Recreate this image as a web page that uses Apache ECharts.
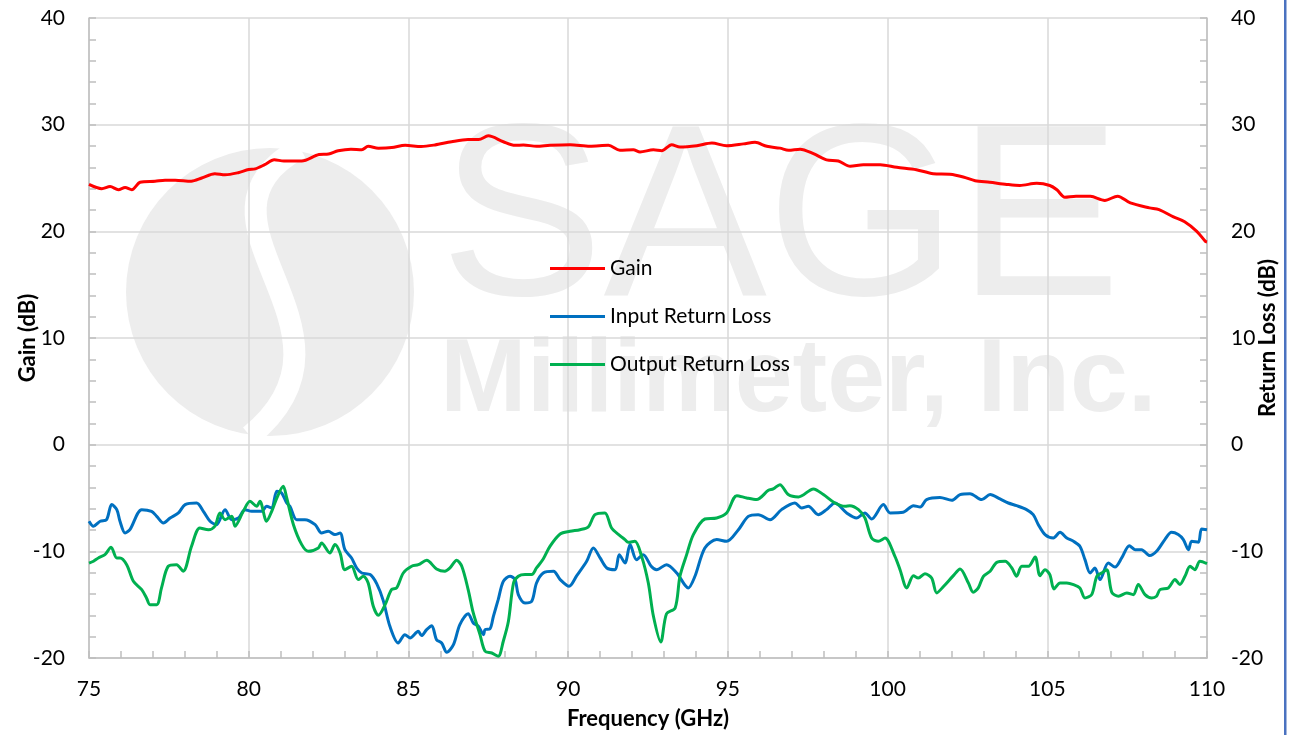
<!DOCTYPE html>
<html><head><meta charset="utf-8">
<script src="https://cdn.jsdelivr.net/npm/echarts@6/dist/echarts.min.js"></script>
<style>html,body{margin:0;padding:0;background:#fff}#c{width:1289px;height:735px}</style>
</head><body><div id="c"></div>
<script>
const xTicks = [75, 80, 85, 90, 95, 100, 105, 110];
const yTicks = [-20, -10, 0, 10, 20, 30, 40];
const seriesNames = ['Gain', 'Input Return Loss', 'Output Return Loss'];

const gainF = [75.0,75.4,75.66,75.92,76.13,76.34,76.6,77.07,77.38,77.7,78.2,78.53,78.94,79.26,79.67,80.0,80.2,80.5,80.8,81.1,81.66,82.2,82.5,82.8,83.2,83.54,83.74,84.06,84.48,84.9,85.4,85.83,86.35,86.87,87.2,87.5,87.97,88.34,88.6,89.01,89.43,90.06,90.68,91.26,91.62,92.04,92.25,92.67,92.93,93.24,93.5,94.03,94.5,94.96,95.49,95.85,96.22,96.63,96.9,97.26,97.68,98.09,98.46,98.83,99.24,99.77,100.29,100.9,101.43,101.95,102.37,102.74,103.2,103.73,104.14,104.67,105.08,105.3,105.55,105.9,106.35,106.8,107.2,107.6,108.2,108.5,108.95,109.3,109.68,109.95,110.0];
const gainV = [24.4,24.0,24.2,23.9,24.1,23.9,24.6,24.7,24.8,24.8,24.7,25.0,25.4,25.3,25.5,25.8,25.85,26.25,26.7,26.6,26.6,27.2,27.25,27.55,27.7,27.65,27.97,27.8,27.85,28.06,27.95,28.1,28.4,28.6,28.6,28.95,28.4,28.06,28.1,27.97,28.06,28.12,27.97,28.06,27.6,27.65,27.44,27.65,27.56,28.12,27.9,28.03,28.28,28.03,28.2,28.34,27.97,27.8,27.6,27.7,27.28,26.7,26.6,26.1,26.25,26.25,26.0,25.78,25.4,25.35,25.1,24.75,24.6,24.4,24.3,24.5,24.3,23.9,23.2,23.3,23.28,22.9,23.3,22.66,22.2,22.03,21.35,20.9,20.0,19.06,19.0];

const irlF = [75.0,75.14,75.35,75.55,75.71,75.87,75.97,76.13,76.28,76.65,76.96,77.12,77.33,77.54,77.8,78.01,78.37,78.58,78.79,78.99,79.26,79.47,79.68,79.88,80.09,80.41,80.56,80.72,80.88,81.03,81.19,81.29,81.5,81.76,82.08,82.28,82.49,82.7,82.86,83.01,83.22,83.38,83.54,83.8,84.01,84.21,84.42,84.68,84.89,85.05,85.31,85.41,85.57,85.73,85.88,86.04,86.2,86.41,86.61,86.87,87.03,87.19,87.35,87.4,87.55,87.66,87.81,87.97,88.18,88.34,88.44,88.65,88.86,89.01,89.22,89.54,89.75,90.03,90.27,90.58,90.79,91.0,91.21,91.47,91.6,91.78,91.94,92.14,92.35,92.6,92.77,93.08,93.4,93.76,93.97,94.28,94.65,94.96,95.33,95.64,95.95,96.32,96.68,97.1,97.31,97.52,97.83,98.09,98.35,98.72,99.03,99.29,99.5,99.87,100.08,100.49,100.81,101.02,101.22,101.64,102.01,102.27,102.58,102.95,103.21,103.52,103.78,104.04,104.35,104.56,104.72,104.93,105.19,105.4,105.61,105.82,106.02,106.18,106.34,106.49,106.65,106.91,107.12,107.33,107.57,107.75,107.95,108.21,108.42,108.68,108.89,109.1,109.26,109.42,109.52,109.73,109.83,110.0];
const irlV = [-7.18,-7.65,-7.18,-7.03,-5.62,-6.09,-7.18,-8.28,-7.97,-6.09,-6.25,-6.72,-7.34,-6.87,-6.4,-5.62,-5.47,-6.25,-7.18,-7.5,-6.09,-7.03,-6.87,-6.09,-6.25,-6.25,-5.78,-5.93,-4.37,-4.53,-5.47,-5.78,-7.03,-7.03,-7.5,-8.28,-8.12,-8.43,-8.28,-9.84,-10.62,-11.56,-12.03,-12.18,-13.05,-14.6,-17.03,-18.59,-17.81,-18.12,-17.5,-17.9,-17.34,-16.97,-18.28,-18.59,-19.46,-18.75,-16.87,-15.84,-16.72,-17.03,-17.81,-17.34,-17.28,-16.09,-14.53,-12.81,-12.34,-12.65,-14.06,-14.84,-14.68,-12.97,-12.03,-11.87,-12.65,-13.28,-12.28,-10.93,-9.68,-10.62,-11.56,-11.72,-10.31,-11.09,-9.37,-10.78,-10.31,-11.4,-11.72,-11.25,-12.03,-13.43,-12.34,-9.68,-8.9,-9.06,-7.97,-6.72,-6.56,-7.03,-6.09,-5.47,-5.93,-5.78,-6.56,-6.09,-5.47,-6.4,-6.87,-6.4,-6.97,-5.62,-6.4,-6.34,-5.72,-5.84,-5.15,-4.95,-5.22,-4.68,-4.59,-5.15,-4.68,-5.09,-5.47,-5.72,-6.09,-6.56,-7.5,-8.43,-8.75,-8.22,-8.75,-9.06,-9.53,-10.78,-12.03,-11.56,-12.65,-11.09,-11.47,-10.62,-9.47,-9.84,-9.84,-10.4,-10.0,-8.9,-8.22,-8.43,-8.9,-9.84,-9.06,-9.15,-7.9,-7.97];

const orlF = [75.0,75.14,75.29,75.5,75.69,75.87,75.97,76.18,76.39,76.65,76.8,76.91,77.12,77.27,77.48,77.74,77.95,78.21,78.47,78.74,78.94,79.1,79.26,79.47,79.57,79.83,80.04,80.25,80.35,80.56,80.72,80.88,81.08,81.19,81.4,81.66,81.87,82.18,82.28,82.54,82.7,82.86,83.01,83.22,83.43,83.59,83.74,83.9,84.06,84.27,84.47,84.63,84.84,85.1,85.31,85.57,85.88,86.14,86.3,86.51,86.67,86.87,87.03,87.24,87.4,87.61,87.81,87.97,88.13,88.29,88.44,88.65,88.86,89.01,89.22,89.43,89.75,90.06,90.37,90.63,90.84,91.15,91.36,91.62,91.78,91.88,92.09,92.3,92.51,92.67,92.9,93.08,93.35,93.5,93.71,93.92,94.28,94.65,94.96,95.28,95.59,95.9,96.27,96.42,96.63,96.89,97.21,97.68,97.99,98.35,98.67,98.82,99.09,99.29,99.5,99.71,99.92,100.23,100.39,100.6,100.81,100.96,101.17,101.38,101.54,101.75,102.06,102.27,102.53,102.68,102.84,103.0,103.21,103.42,103.68,103.89,104.04,104.2,104.41,104.62,104.77,104.93,105.08,105.21,105.4,105.61,105.82,106.02,106.18,106.39,106.55,106.7,106.86,107.02,107.23,107.49,107.69,107.85,108.06,108.27,108.42,108.53,108.79,109.0,109.15,109.31,109.47,109.62,109.78,110.0];
const orlV = [-11.1,-10.93,-10.62,-10.31,-9.62,-10.62,-10.62,-11.25,-12.81,-13.59,-14.37,-15.0,-15.0,-13.43,-11.4,-11.25,-11.87,-9.53,-7.81,-7.97,-7.65,-6.4,-7.03,-6.72,-7.65,-6.25,-5.31,-5.78,-5.31,-7.18,-6.25,-5.0,-3.9,-5.0,-7.5,-9.37,-10.0,-9.68,-9.22,-10.15,-9.37,-10.15,-11.72,-11.4,-12.65,-12.34,-12.97,-15.15,-16.0,-15.0,-13.59,-13.43,-12.03,-11.4,-11.25,-10.84,-11.65,-11.87,-11.56,-10.84,-11.4,-13.59,-15.78,-17.81,-19.37,-19.53,-19.84,-18.43,-16.56,-12.97,-12.34,-12.18,-12.18,-11.56,-10.72,-9.53,-8.37,-8.12,-7.97,-7.72,-6.56,-6.4,-7.81,-8.53,-8.9,-9.15,-9.06,-10.47,-12.97,-16.09,-18.5,-15.85,-15.31,-12.34,-10.31,-8.43,-6.97,-6.87,-6.4,-4.78,-5.0,-5.15,-4.28,-4.15,-3.75,-4.68,-4.9,-4.15,-4.68,-5.47,-5.78,-5.72,-6.09,-6.87,-8.75,-9.06,-8.75,-10.47,-11.72,-13.43,-12.28,-12.5,-12.1,-12.5,-13.9,-13.3,-12.28,-11.65,-12.97,-13.84,-13.43,-12.34,-11.87,-11.03,-10.93,-11.56,-12.34,-11.4,-11.4,-10.53,-12.28,-11.72,-12.18,-13.53,-12.97,-12.97,-13.12,-13.43,-14.37,-14.06,-12.34,-12.03,-11.72,-13.84,-14.21,-13.9,-14.06,-13.12,-14.06,-14.37,-14.21,-13.59,-13.43,-12.65,-13.12,-12.34,-11.4,-11.72,-10.93,-11.15];

const zip = (f, v) => f.map((x, i) => [x, v[i]]);
const FONT = 'Lato, "Liberation Sans", sans-serif';
const axisGrey = '#bfbfbf';
const gridGrey = '#d9d9d9';
const labelStyle = { color: '#000', fontSize: 21, fontFamily: FONT };
const nameStyle = { color: '#000', fontSize: 22, fontWeight: 'bold', fontFamily: FONT };
const wm = '#ededed';

function yAxis(pos, name, showSplit) {
  return {
    type: 'value', position: pos, min: yTicks[0], max: yTicks[yTicks.length - 1], interval: 10,
    name: name, nameLocation: 'middle', nameGap: 50, nameMoveOverlap: false, nameTextStyle: nameStyle,
    axisLine: { show: true, onZero: false, lineStyle: { color: axisGrey, width: 1.5 } },
    axisTick: { show: true, inside: true, length: 7, lineStyle: { color: axisGrey, width: 1.5 } },
    minorTick: { show: true, splitNumber: 5, length: 7, lineStyle: { color: axisGrey, width: 1.5 } },
    axisLabel: Object.assign({ margin: 24 }, labelStyle),
    splitLine: { show: showSplit, lineStyle: { color: gridGrey, width: 1.5 } }
  };
}

const chart = echarts.init(document.getElementById('c'));
chart.setOption({
  animation: false,
  backgroundColor: '#fff',
  grid: { left: 89, right: 82, top: 18, bottom: 77, containLabel: false, outerBoundsMode: 'none' },
  graphic: [
    { type: 'circle', z: -10, shape: { cx: 270, cy: 292, r: 144 }, style: { fill: wm } },
    { type: 'bezierCurve', z: -9, shape: { x1: 300, y1: 148, cpx1: 170, cpy1: 220, cpx2: 380, cpy2: 330, x2: 250, y2: 436 }, style: { stroke: '#fff', lineWidth: 22, fill: null } },
    { type: 'text', z: -10, left: 440, top: 105, style: { text: 'SAGE', fontSize: 245, fontFamily: '"Liberation Sans", sans-serif', fill: wm } },
    { type: 'text', z: -10, left: 440, top: 330, style: { text: 'Millimeter, Inc.', fontSize: 104, fontWeight: 'bold', fontFamily: '"Liberation Sans", sans-serif', fill: wm } },
    { type: 'rect', z: 10, shape: { x: 1284, y: 0, width: 2.5, height: 735 }, style: { fill: '#4a72c0' } }
  ],
  legend: {
    orient: 'vertical', left: 545, top: 253, itemWidth: 55, itemHeight: 3, itemGap: 27, icon: 'rect',
    textStyle: { color: '#000', fontSize: 21, fontFamily: FONT },
    data: seriesNames
  },
  xAxis: {
    type: 'value', min: xTicks[0], max: xTicks[xTicks.length - 1], interval: 5,
    name: 'Frequency (GHz)', nameLocation: 'middle', nameGap: 50, nameMoveOverlap: false, nameTextStyle: nameStyle,
    axisLine: { show: true, onZero: false, lineStyle: { color: axisGrey, width: 1.5 } },
    axisTick: { show: true, inside: true, length: 7, lineStyle: { color: axisGrey, width: 1.5 } },
    minorTick: { show: true, splitNumber: 5, length: 7, lineStyle: { color: axisGrey, width: 1.5 } },
    axisLabel: Object.assign({ margin: 21 }, labelStyle),
    splitLine: { show: true, lineStyle: { color: gridGrey, width: 1.5 } }
  },
  yAxis: [yAxis('left', 'Gain (dB)', true), yAxis('right', 'Return Loss (dB)', false)],
  series: [
    { name: seriesNames[0], type: 'line', yAxisIndex: 0, data: zip(gainF, gainV), showSymbol: false, smooth: 0.3, lineStyle: { color: '#ff0000', width: 3 }, itemStyle: { color: '#ff0000' } },
    { name: seriesNames[1], type: 'line', yAxisIndex: 1, data: zip(irlF, irlV), showSymbol: false, smooth: 0.3, lineStyle: { color: '#0070c0', width: 3 }, itemStyle: { color: '#0070c0' } },
    { name: seriesNames[2], type: 'line', yAxisIndex: 1, data: zip(orlF, orlV), showSymbol: false, smooth: 0.3, lineStyle: { color: '#00b050', width: 3 }, itemStyle: { color: '#00b050' } }
  ]
});
</script></body></html>
